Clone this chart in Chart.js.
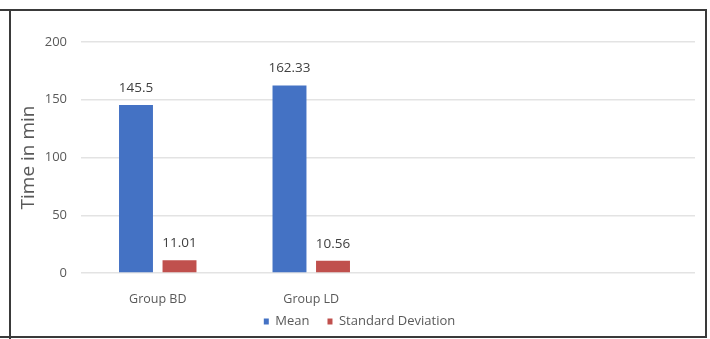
<!DOCTYPE html>
<html>
<head>
<meta charset="utf-8">
<script src="https://cdn.jsdelivr.net/npm/chart.js@4"></script>
<style>
  html, body { margin: 0; padding: 0; background: #fff; }
  #wrap { position: relative; width: 710px; height: 339px; overflow: hidden; }
  #chart { position: absolute; left: 0; top: 0; }
  .frame { position: absolute; left: 0; top: 9px; width: 707px; height: 329px; box-sizing: border-box;
           border-top: 2px solid #3a3a3a; border-bottom: 2px solid #3a3a3a; border-right: 2px solid #3a3a3a; }
  .vline { position: absolute; left: 9px; top: 9px; width: 2px; height: 330px; background: #3a3a3a; }
</style>
</head>
<body>
<div id="wrap">
  <canvas id="chart" width="710" height="339"></canvas>
  <div class="frame"></div>
  <div class="vline"></div>
</div>
<script>
// categories (the last two slots are empty in the original chart)
const groups = ['Group BD', 'Group LD', '', ''];
const meanValues = [145.5, 162.33, null, null];
const sdValues = [11.01, 10.56, null, null];
const yTicks = [0, 50, 100, 150, 200];

const blue = '#4472C4';
const red = '#C0504D';
const fontFamily = '"Open Sans", sans-serif';

// draw value labels above each bar
const valueLabels = {
  id: 'valueLabels',
  afterDatasetsDraw(chart) {
    const ctx = chart.ctx;
    ctx.save();
    ctx.fillStyle = '#404040';
    ctx.font = '13.5px ' + fontFamily;
    ctx.textAlign = 'center';
    ctx.textBaseline = 'middle';
    chart.data.datasets.forEach((ds, i) => {
      chart.getDatasetMeta(i).data.forEach((bar, j) => {
        if (ds.data[j] == null) return;
        ctx.fillText(String(ds.data[j]), bar.x, bar.y - 17);
      });
    });
    ctx.restore();
  }
};

// pull the legend up a little, closer to the category labels, and a bit right
const legendNudge = {
  id: 'legendNudge',
  afterLayout(chart) {
    if (!chart.legend) return;
    chart.legend.top -= 12;
    chart.legend.bottom -= 12;
    chart.legend.left += 12;
    chart.legend.right += 12;
  }
};

new Chart(document.getElementById('chart'), {
  type: 'bar',
  data: {
    labels: groups,
    datasets: [
      { label: 'Mean', data: meanValues, backgroundColor: blue },
      { label: 'Standard Deviation', data: sdValues, backgroundColor: red }
    ]
  },
  options: {
    responsive: false,
    animation: false,
    categoryPercentage: 0.567,
    barPercentage: 0.78,
    layout: { padding: { left: 0, right: 15, top: 42, bottom: -11 } },
    plugins: {
      legend: {
        position: 'bottom',
        labels: {
          boxWidth: 5, boxHeight: 6, padding: 18,
          color: '#595959',
          font: { size: 13, family: fontFamily }
        }
      },
      tooltip: { enabled: false }
    },
    scales: {
      x: {
        grid: { display: false, drawTicks: false },
        border: { display: false },
        ticks: { color: '#595959', padding: 19, font: { size: 12.5, family: fontFamily } },
        afterFit(scale) { scale.height = 36; }
      },
      y: {
        min: 0, max: 200,
        afterBuildTicks(scale) { scale.ticks = yTicks.map(v => ({ value: v })); },
        grid: { color: '#e3e3e3', lineWidth: 1.5, drawTicks: false },
        border: { display: false },
        ticks: { color: '#595959', padding: 14, font: { size: 13, family: fontFamily } },
        title: {
          display: true, text: 'Time in min', color: '#595959',
          font: { size: 19, family: fontFamily },
          padding: { top: 17, bottom: 0 }
        },
        afterFit(scale) { scale.width = 81; }
      }
    }
  },
  plugins: [valueLabels, legendNudge]
});
</script>
</body>
</html>
